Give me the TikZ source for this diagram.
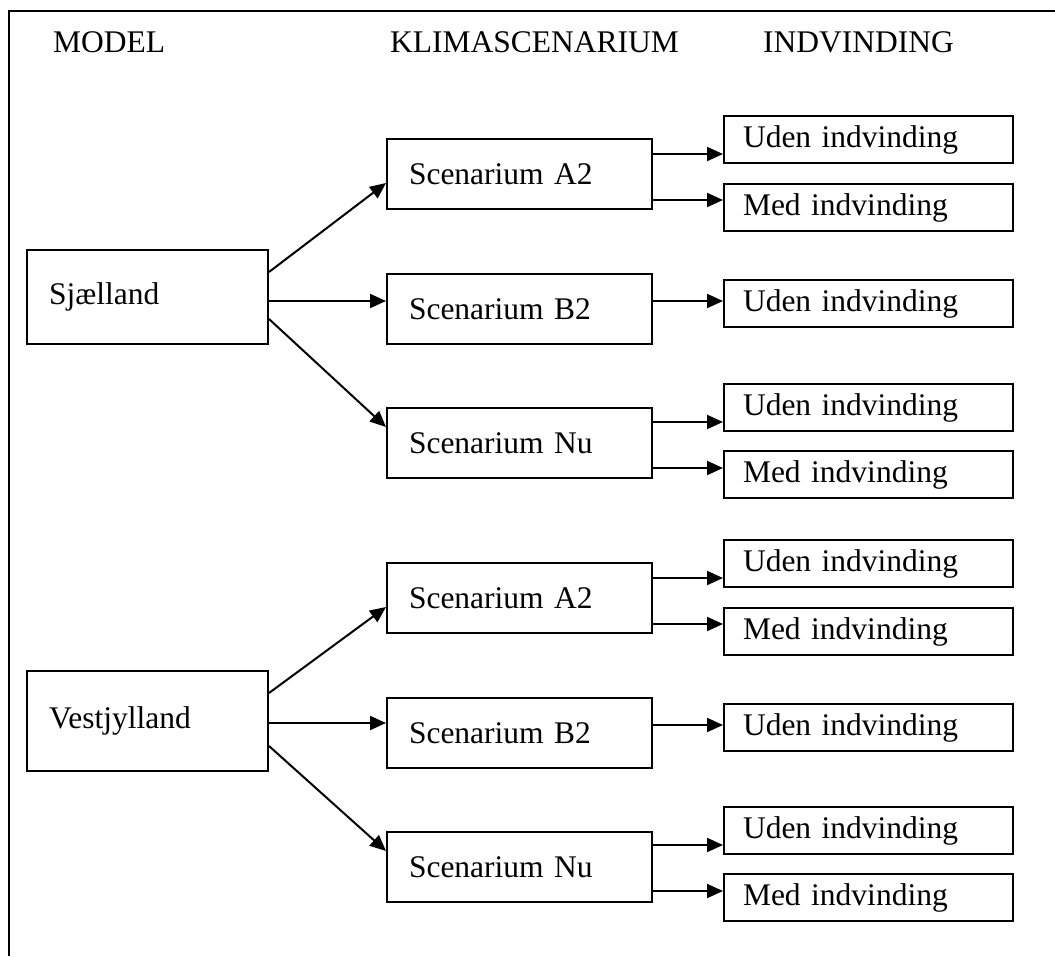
\documentclass[tikz,border=0pt]{standalone}
\usepackage{fontspec}
\setmainfont{Liberation Serif}
\usetikzlibrary{arrows.meta}

\begin{document}
\begin{tikzpicture}[x=1pt,y=-1pt,font=\fontsize{31.5}{38}\selectfont,
   arr/.style={-{Triangle[length=16pt,width=14pt]},line width=2pt},
   mbox/.style={draw,line width=2pt,anchor=north west,inner xsep=22pt,inner ysep=0pt,text width=197pt,align=left},
   sbox/.style={draw,line width=2pt,anchor=north west,inner xsep=22pt,inner ysep=0pt,text width=221pt,align=left,minimum height=70pt},
   rbox/.style={draw,line width=2pt,anchor=north west,inner xsep=19pt,inner ysep=0pt,text width=251pt,align=left,minimum height=47pt},
   head/.style={anchor=base west,inner sep=0pt}]
  \useasboundingbox (0,0) rectangle (1055,956);
  \draw[line width=1.5pt] (9,956) -- (9,11) -- (1055,11);
  % headings
  \node[head] (hm) at (53,52) {MODEL};
  \node[head] (hk) at (390,52) {KLIMASCENARIUM};
  \node[head] (hi) at (763,52) {INDVINDING};
  % Sjaelland
  \node[mbox,minimum height=94pt] (sj) at (26,249) {Sjælland};
  \node[sbox] (s1a) at (386,138) {Scenarium A2};
  \node[sbox] (s1b) at (386,273) {Scenarium B2};
  \node[sbox] (s1n) at (386,407) {Scenarium Nu};
  \node[rbox] (u1a) at (723,115) {Uden indvinding};
  \node[rbox] (m1a) at (723,183) {Med indvinding};
  \node[rbox] (u1b) at (723,279) {Uden indvinding};
  \node[rbox] (u1n) at (723,383) {Uden indvinding};
  \node[rbox] (m1n) at (723,450) {Med indvinding};
  \draw[arr] ([yshift=-23pt]sj.north east) -- ([yshift=-45pt]s1a.north west);
  \draw[arr] ([yshift=-52pt]sj.north east) coordinate (h1) -- (h1 -| s1b.west);
  \draw[arr] ([yshift=26pt]sj.south east) -- ([yshift=-20pt]s1n.north west);
  \draw[arr] ([yshift=-16pt]s1a.north east) coordinate (p1) -- (p1 -| u1a.west);
  \draw[arr] ([yshift=10pt]s1a.south east) coordinate (p2) -- (p2 -| m1a.west);
  \draw[arr] ([yshift=-28pt]s1b.north east) coordinate (p3) -- (p3 -| u1b.west);
  \draw[arr] ([yshift=-15pt]s1n.north east) coordinate (p4) -- (p4 -| u1n.west);
  \draw[arr] ([yshift=11pt]s1n.south east) coordinate (p5) -- (p5 -| m1n.west);
  % Vestjylland
  \node[mbox,minimum height=100pt] (vj) at (26,670) {Vestjylland};
  \node[sbox] (s2a) at (386,562) {Scenarium A2};
  \node[sbox] (s2b) at (386,697) {Scenarium B2};
  \node[sbox] (s2n) at (386,831) {Scenarium Nu};
  \node[rbox] (u2a) at (723,539) {Uden indvinding};
  \node[rbox] (m2a) at (723,607) {Med indvinding};
  \node[rbox] (u2b) at (723,703) {Uden indvinding};
  \node[rbox] (u2n) at (723,806) {Uden indvinding};
  \node[rbox] (m2n) at (723,873) {Med indvinding};
  \draw[arr] ([yshift=-23pt]vj.north east) -- ([yshift=-45pt]s2a.north west);
  \draw[arr] ([yshift=-53pt]vj.north east) coordinate (h2) -- (h2 -| s2b.west);
  \draw[arr] ([yshift=26pt]vj.south east) -- ([yshift=-20pt]s2n.north west);
  \draw[arr] ([yshift=-16pt]s2a.north east) coordinate (q1) -- (q1 -| u2a.west);
  \draw[arr] ([yshift=10pt]s2a.south east) coordinate (q2) -- (q2 -| m2a.west);
  \draw[arr] ([yshift=-28pt]s2b.north east) coordinate (q3) -- (q3 -| u2b.west);
  \draw[arr] ([yshift=-14pt]s2n.north east) coordinate (q4) -- (q4 -| u2n.west);
  \draw[arr] ([yshift=12pt]s2n.south east) coordinate (q5) -- (q5 -| m2n.west);
\end{tikzpicture}
\end{document}
